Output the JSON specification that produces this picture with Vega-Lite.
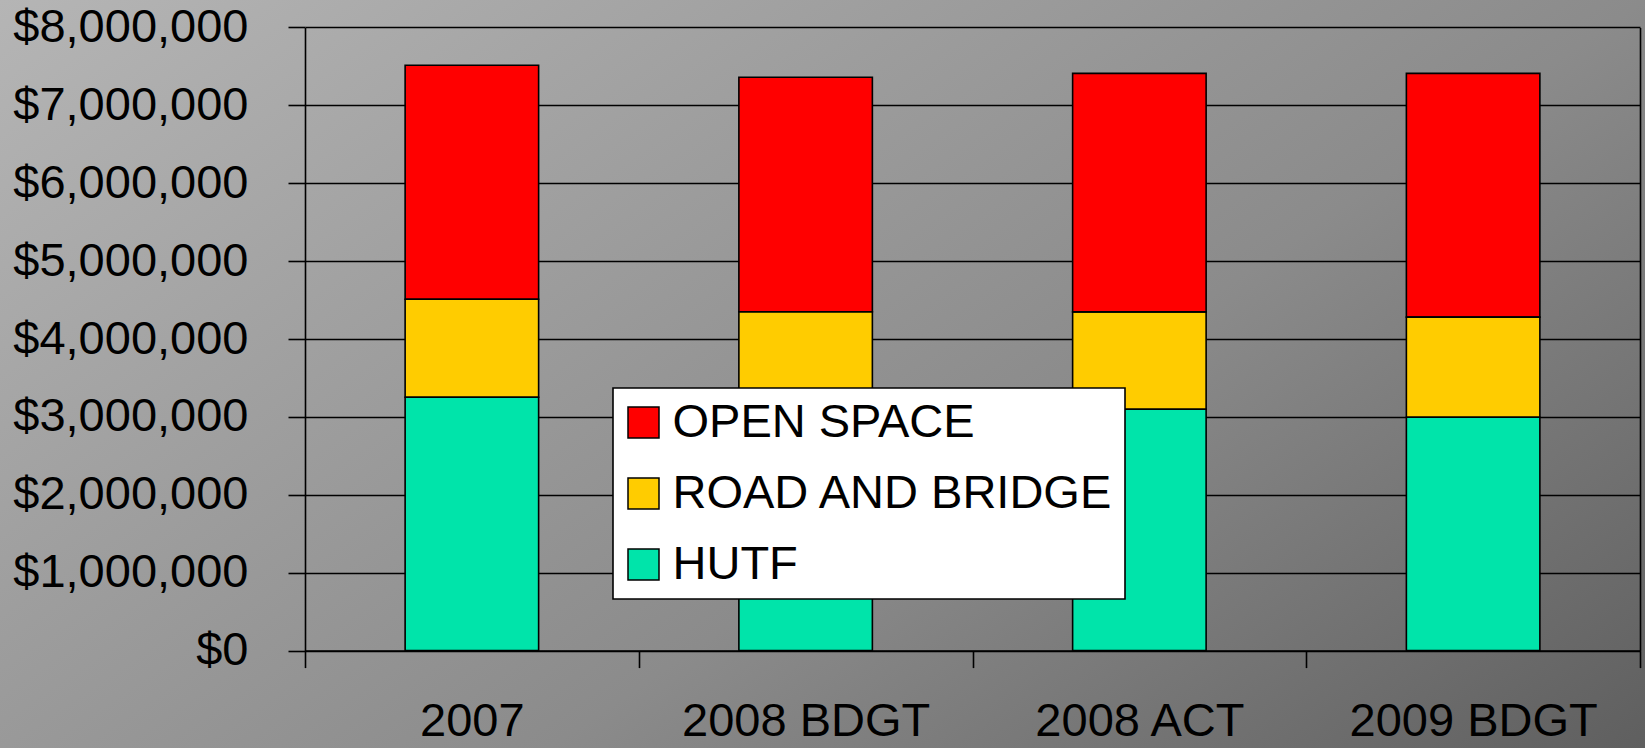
{
  "$schema": "https://vega.github.io/schema/vega-lite/v6.json",
  "width": 1645,
  "height": 748,
  "autosize": {"type": "none"},
  "padding": 0,
  "background": "#8b8b8b",
  "config": {
    "view": {
      "stroke": null,
      "fill": {
        "gradient": "linear",
        "x1": 0, "y1": 0, "x2": 1.154, "y2": 0.769,
        "stops": [
          {"offset": 0, "color": "#b5b5b5"},
          {"offset": 0.4, "color": "#999999"},
          {"offset": 0.6, "color": "#8b8b8b"},
          {"offset": 1, "color": "#5f5f5f"}
        ]
      }
    },
    "font": "Liberation Sans",
    "legend": {"strokeWidth": 1.6}
  },
  "data": {"name": "funds", "values": [
    {"year": "2007", "fund": "HUTF", "amount": 3252000, "rank": 1},
    {"year": "2007", "fund": "ROAD AND BRIDGE", "amount": 1258000, "rank": 2},
    {"year": "2007", "fund": "OPEN SPACE", "amount": 3004000, "rank": 3},
    {"year": "2008 BDGT", "fund": "HUTF", "amount": 3080000, "rank": 1},
    {"year": "2008 BDGT", "fund": "ROAD AND BRIDGE", "amount": 1270000, "rank": 2},
    {"year": "2008 BDGT", "fund": "OPEN SPACE", "amount": 3010000, "rank": 3},
    {"year": "2008 ACT", "fund": "HUTF", "amount": 3099000, "rank": 1},
    {"year": "2008 ACT", "fund": "ROAD AND BRIDGE", "amount": 1249000, "rank": 2},
    {"year": "2008 ACT", "fund": "OPEN SPACE", "amount": 3062000, "rank": 3},
    {"year": "2009 BDGT", "fund": "HUTF", "amount": 2995000, "rank": 1},
    {"year": "2009 BDGT", "fund": "ROAD AND BRIDGE", "amount": 1286000, "rank": 2},
    {"year": "2009 BDGT", "fund": "OPEN SPACE", "amount": 3129000, "rank": 3}
  ]},
  "layer": [
    {
      "mark": {"type": "bar", "width": {"band": 0.4}, "strokeWidth": 0, "opacity": 1},
      "encoding": {
        "x": {
          "field": "year", "type": "nominal",
          "sort": ["2007", "2008 BDGT", "2008 ACT", "2009 BDGT"],
          "scale": {"range": [305, 1640], "paddingInner": 0, "paddingOuter": 0},
          "axis": {
            "orient": "bottom", "offset": -97.4, "title": null, "labelAngle": 0,
            "labelFontSize": 47, "labelColor": "#000000", "labelPadding": 31,
            "labelFont": "Liberation Sans", "labelLimit": 1000,
            "domainColor": "#000000", "domainWidth": 1.6,
            "tickColor": "#000000", "tickWidth": 1.6, "tickSize": 17, "tickBand": "extent",
            "grid": false
          }
        },
        "y": {
          "field": "amount", "type": "quantitative", "stack": "zero",
          "scale": {"domain": [0, 8000000], "range": [650.6, 27.4], "nice": false, "zero": true},
          "axis": {
            "orient": "left", "offset": -305, "title": null,
            "values": [0, 1000000, 2000000, 3000000, 4000000, 5000000, 6000000, 7000000, 8000000],
            "format": "$,.0f",
            "labelFontSize": 47, "labelColor": "#000000", "labelPadding": 40,
            "labelFont": "Liberation Sans", "labelLimit": 1000,
            "domainColor": "#000000", "domainWidth": 1.6,
            "tickColor": "#000000", "tickWidth": 1.6, "tickSize": 17,
            "grid": true, "gridColor": "#000000", "gridWidth": 1.6, "gridOpacity": 1
          }
        },
        "color": {
          "field": "fund", "type": "nominal",
          "scale": {
            "domain": ["OPEN SPACE", "ROAD AND BRIDGE", "HUTF"],
            "range": ["#ff0000", "#ffcc00", "#00e4aa"]
          },
          "legend": {
            "orient": "none", "legendX": 613, "legendY": 388,
            "title": null, "padding": 11,
            "fillColor": "#ffffff", "strokeColor": "#000000",
            "symbolType": "square", "symbolSize": 961, "symbolOffset": -4,
            "symbolStrokeColor": "#000000", "symbolStrokeWidth": 1.5, "symbolOpacity": 1,
            "labelFontSize": 47, "labelFont": "Liberation Sans", "labelColor": "#000000",
            "labelOffset": 5.5, "labelLimit": 1000, "rowPadding": 23
          }
        },
        "order": {"field": "rank", "type": "quantitative"}
      }
    },
    {
      "mark": {"type": "bar", "width": {"band": 0.4}, "fill": null, "fillOpacity": 0, "stroke": "#000000", "strokeWidth": 1.6},
      "encoding": {
        "x": {
          "field": "year", "type": "nominal",
          "sort": ["2007", "2008 BDGT", "2008 ACT", "2009 BDGT"]
        },
        "y": {
          "field": "amount", "type": "quantitative", "stack": "zero",
          "axis": {
            "orient": "right", "offset": -5, "title": null,
            "labels": false, "ticks": false, "grid": false,
            "domainColor": "#000000", "domainWidth": 1.6
          }
        },
        "detail": {"field": "fund"},
        "order": {"field": "rank", "type": "quantitative"}
      }
    }
  ],
  "resolve": {"axis": {"y": "independent"}}
}
